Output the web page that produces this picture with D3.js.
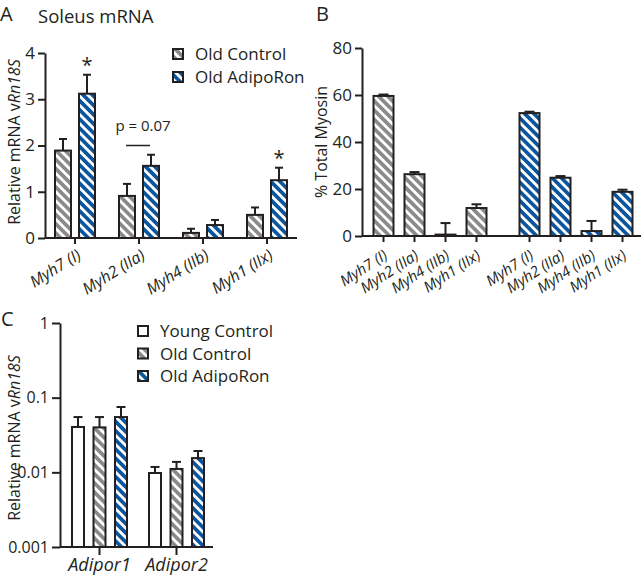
<!DOCTYPE html>
<html><head><meta charset="utf-8">
<script src="https://cdn.jsdelivr.net/npm/d3@7"></script>
<style>body{margin:0;background:#fff} svg{display:block;font-family:"Open Sans",sans-serif}</style>
</head><body>
<svg id="chart" width="644" height="577"></svg>
<script>
// ---------- DATA ----------
const seriesAB = ["Old Control", "Old AdipoRon"];
const genesA = ["Myh7 (I)", "Myh2 (IIa)", "Myh4 (IIb)", "Myh1 (IIx)"];
const meanA_control = [1.89, 0.91, 0.11, 0.50];
const semA_control  = [0.25, 0.26, 0.09, 0.16];
const meanA_adipo   = [3.12, 1.56, 0.28, 1.25];
const semA_adipo    = [0.41, 0.24, 0.11, 0.27];
const ticksA = [0, 1, 2, 3, 4];
const sigA = ["Myh7 (I)", "Myh1 (IIx)"];

const genesB = ["Myh7 (I)", "Myh2 (IIa)", "Myh4 (IIb)", "Myh1 (IIx)"];
const meanB_control = [59.6, 26.3, 0.6, 11.9];
const semB_control  = [0.6, 0.9, 4.9, 1.6];
const meanB_adipo   = [52.3, 24.8, 2.1, 18.8];
const semB_adipo    = [0.6, 0.7, 4.3, 0.9];
const ticksB = [0, 20, 40, 60, 80];

const seriesC = ["Young Control", "Old Control", "Old AdipoRon"];
const genesC = ["Adipor1", "Adipor2"];
const meanC_young   = [0.0405, 0.0098];
const semC_young    = [0.0145, 0.0020];
const meanC_control = [0.0400, 0.0111];
const semC_control  = [0.0150, 0.0027];
const meanC_adipo   = [0.0550, 0.0155];
const semC_adipo    = [0.0200, 0.0038];
const ticksC = [0.001, 0.01, 0.1, 1];

// ---------- SETUP ----------
const svg = d3.select("#chart");
const GRAY = "#8a8a8a", BLUE = "#0a559e", INK = "#231f20";
const defs = svg.append("defs");
function stripe(id, color) {
  const p = defs.append("pattern").attr("id", id).attr("patternUnits", "userSpaceOnUse")
    .attr("width", 6.5).attr("height", 6.5).attr("patternTransform", "rotate(-45)");
  p.append("rect").attr("width", 6.5).attr("height", 6.5).attr("fill", color);
  p.append("rect").attr("width", 2.8).attr("height", 6.5).attr("fill", "#fff");
}
stripe("pGray", GRAY); stripe("pBlue", BLUE);
const fillOf = {"Young Control": "#fff", "Old Control": "url(#pGray)", "Old AdipoRon": "url(#pBlue)"};

function styleAxis(g, fs) {
  g.selectAll("path,line").attr("stroke", INK).attr("stroke-width", 2);
  g.selectAll("text").attr("fill", INK).style("font-size", fs + "px").style("font-family", '"Open Sans",sans-serif');
}
function drawBar(g, x, w, y0, y1, yErr, fill, cap) {
  g.append("line").attr("x1", x + w / 2).attr("x2", x + w / 2).attr("y1", y1).attr("y2", yErr)
    .attr("stroke", INK).attr("stroke-width", 2);
  g.append("line").attr("x1", x + w / 2 - cap / 2).attr("x2", x + w / 2 + cap / 2).attr("y1", yErr).attr("y2", yErr)
    .attr("stroke", INK).attr("stroke-width", 2);
  g.append("rect").attr("x", x).attr("y", y1).attr("width", w).attr("height", Math.max(0, y0 - y1))
    .attr("fill", fill).attr("stroke", INK).attr("stroke-width", 2);
}
function ylabel(x, y, pre, ital, fs) {
  const t = svg.append("text").attr("transform", `translate(${x},${y}) rotate(-90)`)
    .attr("text-anchor", "middle").style("font-size", fs + "px").attr("fill", INK);
  t.append("tspan").text(pre);
  if (ital) t.append("tspan").style("font-style", "italic").text(ital);
}
function legend(x, y, items, dy) {
  items.forEach((s, i) => {
    svg.append("rect").attr("x", x).attr("y", y + i * dy - 5).attr("width", 10).attr("height", 10)
      .attr("fill", fillOf[s]).attr("stroke", INK).attr("stroke-width", 2);
    svg.append("text").attr("x", x + 22).attr("y", y + i * dy + 6).text(s)
      .style("font-size", "17px").attr("fill", INK);
  });
}
function panelLetter(t, x, y) {
  svg.append("text").attr("x", x).attr("y", y).text(t).style("font-size", "20px").attr("fill", INK);
}

// ---------- PANEL A ----------
{
  const y = d3.scaleLinear().domain([0, 4]).range([238, 53]);
  const x = d3.scaleBand().domain(genesA).range([43, 299]);
  const xi = d3.scaleBand().domain(seriesAB).range([-20, 20]).paddingInner(1 / 3);
  const g = svg.append("g");
  const ya = g.append("g").attr("transform", "translate(45,0)")
    .call(d3.axisLeft(y).tickValues(ticksA).tickSize(7).tickSizeOuter(0).tickPadding(3).tickFormat(d3.format("d")));
  styleAxis(ya, 17);
  const xa = g.append("g").attr("transform", "translate(0,238)")
    .call(d3.axisBottom(x).tickSize(6).tickSizeOuter(0).tickFormat(""));
  xa.select(".domain").attr("d", "M45,0H297");
  styleAxis(xa, 14);
  genesA.forEach((gn, i) => {
    const cx = x(gn) + x.bandwidth() / 2;
    [[seriesAB[0], meanA_control[i], semA_control[i]], [seriesAB[1], meanA_adipo[i], semA_adipo[i]]]
      .forEach(([s, m, e]) => drawBar(g, cx + xi(s), xi.bandwidth(), y(0), y(m), y(m + e), fillOf[s], 8));
    g.append("text").attr("transform", `translate(${cx + 7},${258}) rotate(-32)`).attr("text-anchor", "end")
      .style("font-size", "16px").style("font-style", "italic").attr("fill", INK).text(gn);
    if (sigA.includes(gn)) {
      g.append("text").attr("x", cx + xi(seriesAB[1]) + xi.bandwidth() / 2)
        .attr("y", y(meanA_adipo[i] + semA_adipo[i]) - 3).attr("text-anchor", "middle")
        .style("font-size", "20px").attr("fill", INK).text("*");
    }
  });
  // p-value annotation over Myh2
  const c2 = x(genesA[1]) + x.bandwidth() / 2;
  g.append("line").attr("x1", c2 - 13).attr("x2", c2 + 11).attr("y1", y(2)).attr("y2", y(2))
    .attr("stroke", INK).attr("stroke-width", 1.5);
  g.append("text").attr("x", c2 + 4).attr("y", y(2) - 15).attr("text-anchor", "middle")
    .style("font-size", "15px").attr("fill", INK).text("p = 0.07");
  ylabel(20, 142, "Relative mRNA v", "Rn18S", 16);
  svg.append("text").attr("x", 38).attr("y", 23).text("Soleus mRNA").style("font-size", "18.5px").attr("fill", INK);
  panelLetter("A", 0, 21);
  legend(173, 54, seriesAB, 23);
}

// ---------- PANEL B ----------
{
  const y = d3.scaleLinear().domain([0, 80]).range([236, 48]);
  const xo = d3.scaleBand().domain(seriesAB).range([357, 649]);
  const xi = d3.scalePoint().domain(genesB).range([-46.5, 46.5]);
  const g = svg.append("g");
  const ya = g.append("g").attr("transform", "translate(362,0)")
    .call(d3.axisLeft(y).tickValues(ticksB).tickSize(7).tickSizeOuter(0).tickPadding(3));
  styleAxis(ya, 17);
  g.append("line").attr("x1", 362).attr("x2", 641).attr("y1", 236).attr("y2", 236)
    .attr("stroke", INK).attr("stroke-width", 2);
  const W = 20;
  seriesAB.forEach((s, si) => {
    const means = si === 0 ? meanB_control : meanB_adipo;
    const sems = si === 0 ? semB_control : semB_adipo;
    const gc = xo(s) + xo.bandwidth() / 2;
    genesB.forEach((gn, i) => {
      const cx = gc + xi(gn);
      g.append("line").attr("x1", cx).attr("x2", cx).attr("y1", 236).attr("y2", 242)
        .attr("stroke", INK).attr("stroke-width", 2);
      drawBar(g, cx - W / 2, W, y(0), y(means[i]), y(means[i] + sems[i]), fillOf[s], 10);
      g.append("text").attr("transform", `translate(${cx + 5},${258}) rotate(-33)`).attr("text-anchor", "end")
        .style("font-size", "15px").style("font-style", "italic").attr("fill", INK).text(gn);
    });
  });
  ylabel(327, 142, "% Total Myosin", null, 16);
  panelLetter("B", 316, 21);
}

// ---------- PANEL C ----------
{
  const y = d3.scaleLog().domain([0.001, 1]).range([547, 323]);
  const x = d3.scaleBand().domain(genesC).range([61, 215]);
  const xi = d3.scalePoint().domain(seriesC).range([-21.5, 21.5]);
  const g = svg.append("g");
  const ya = g.append("g").attr("transform", "translate(60,0)")
    .call(d3.axisLeft(y).tickValues(ticksC).tickSize(8).tickSizeOuter(0).tickPadding(3)
      .tickFormat(d => String(d)));
  styleAxis(ya, 16);
  const xa = g.append("g").attr("transform", "translate(0,547)")
    .call(d3.axisBottom(x).tickSize(8).tickSizeOuter(0).tickFormat(""));
  xa.select(".domain").attr("d", "M60,0H213");
  styleAxis(xa, 16);
  const data = {"Young Control": [meanC_young, semC_young], "Old Control": [meanC_control, semC_control],
    "Old AdipoRon": [meanC_adipo, semC_adipo]};
  const W = 12;
  genesC.forEach((gn, i) => {
    const cx = x(gn) + x.bandwidth() / 2;
    seriesC.forEach(s => {
      const [m, e] = data[s];
      drawBar(g, cx + xi(s) - W / 2, W, y(0.001), y(m[i]), y(m[i] + e[i]), fillOf[s], 9);
    });
    g.append("text").attr("x", cx).attr("y", 571).attr("text-anchor", "middle")
      .style("font-size", "18px").style("font-style", "italic").attr("fill", INK).text(gn);
  });
  ylabel(20, 438, "Relative mRNA v", "Rn18S", 16);
  panelLetter("C", 1, 326);
  legend(138, 331, seriesC, 22.5);
}
</script>
</body></html>
